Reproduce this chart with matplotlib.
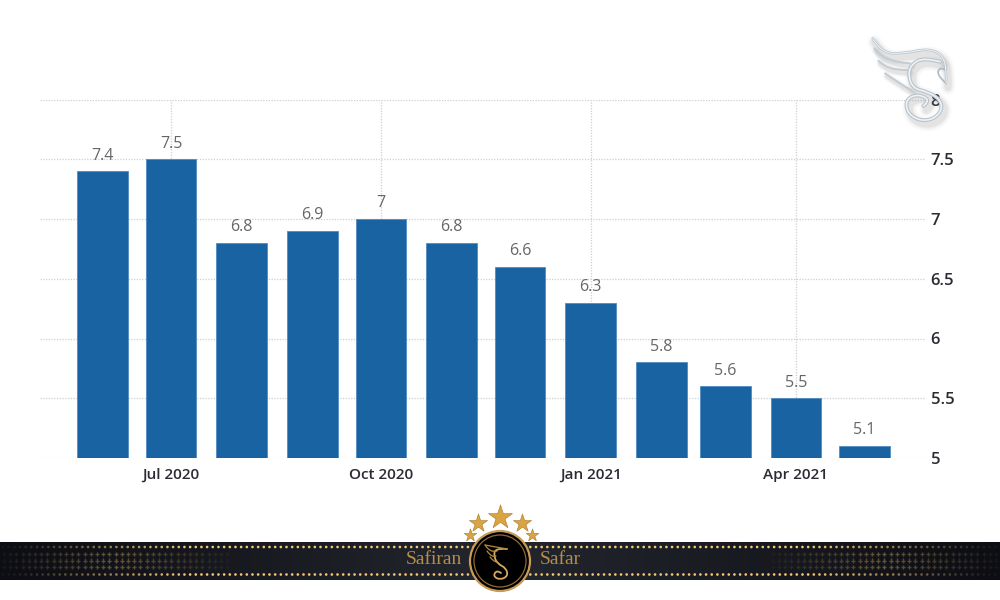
import numpy as np
import pandas as pd
import matplotlib
matplotlib.use("Agg")
import matplotlib.pyplot as plt
import matplotlib.dates as mdates
from matplotlib.path import Path
from matplotlib.patches import PathPatch, Circle

# data
meses = ["2020-06-01", "2020-07-01", "2020-08-01", "2020-09-01", "2020-10-01", "2020-11-01",
         "2020-12-01", "2021-01-01", "2021-02-01", "2021-03-01", "2021-04-01", "2021-05-01"]
valores = [7.4, 7.5, 6.8, 6.9, 7.0, 6.8, 6.6, 6.3, 5.8, 5.6, 5.5, 5.1]
rotulos = ["7.4", "7.5", "6.8", "6.9", "7", "6.8", "6.6", "6.3", "5.8", "5.6", "5.5", "5.1"]
y_ticks = [5, 5.5, 6, 6.5, 7, 7.5, 8]
y_labels = ["5", "5.5", "6", "6.5", "7", "7.5", "8"]
x_ticks = ["2020-07-01", "2020-10-01", "2021-01-01", "2021-04-01"]
x_labels = ["Jul 2020", "Oct 2020", "Jan 2021", "Apr 2021"]

plt.rcParams["font.family"] = ["Open Sans", "DejaVu Sans"]

fig = plt.figure(figsize=(10, 6), dpi=100, facecolor="white")

# grafico principal
ax = fig.add_axes([40 / 1000, 1 - 458 / 600, (925 - 40) / 1000, (458 - 99.5) / 600])
datas = mdates.date2num(pd.to_datetime(meses))
ticks_x = mdates.date2num(pd.to_datetime(x_ticks))
px_dia = 2.281
ax.set_xlim(ticks_x[0] - (171 - 40) / px_dia, ticks_x[0] + (925 - 171) / px_dia)
ax.set_ylim(5, 8)

ax.bar(datas, np.array(valores) - 5, bottom=5, width=22.2, color="#1a63a3",
       edgecolor="#4f8cc0", linewidth=0.6, zorder=3)
for d, v, r in zip(datas, valores, rotulos):
    ax.annotate(r, (d, v), xytext=(0, 5.5), textcoords="offset points", ha="center", va="bottom",
                fontsize=11.5, color="#666666", zorder=4)

ax.set_yticks(y_ticks)
ax.set_yticklabels(y_labels)
ax.set_xticks(ticks_x)
ax.set_xticklabels(x_labels)
ax.yaxis.tick_right()
ax.tick_params(axis="both", length=0, labelcolor="#2b2b33")
ax.tick_params(axis="y", pad=4, labelsize=12)
ax.tick_params(axis="x", pad=7, labelsize=11)
for t in ax.get_xticklabels() + ax.get_yticklabels():
    t.set_fontweight("semibold")
ax.grid(True, color="#cfcfcf", linestyle=(0, (1, 1.2)), linewidth=0.9, zorder=0)
ax.set_axisbelow(True)
for s in ax.spines.values():
    s.set_visible(False)

# camada de decoracao em pixels
ov = fig.add_axes([0, 0, 1, 1], zorder=10)
ov.patch.set_alpha(0)

# faixa escura
grad = np.abs(np.linspace(-1, 1, 500)).reshape(1, -1)
ov.imshow(1 - grad, extent=(0, 1000, 580, 542), aspect="auto", zorder=1,
          cmap=matplotlib.colors.LinearSegmentedColormap.from_list("faixa", ["#0c0e13", "#24262e"]))
ov.set_xlim(0, 1000)
ov.set_ylim(600, 0)
ov.axis("off")

xs = np.arange(3, 1000, 5.67)
dist = np.minimum(xs, 1000 - xs)
keep = np.abs(xs - 500) > 25
for yy in (547, 574.5):
    ov.scatter(xs[keep], np.full(keep.sum(), yy), marker="o", s=3.6, linewidths=0,
               c=[(0.96, 0.78, 0.47, a) for a in np.clip(dist[keep] / 190, 0.05, 1)], zorder=2)
xm = np.arange(4, 1000, 6.2)
dm = np.minimum(xm, 1000 - xm)
am = np.clip(1 - np.abs(dm - 115) / 115, 0, 1) * 0.32 + 0.04
am[dm > 230] = 0
for yy in (554, 560.5, 567):
    ov.scatter(xm, np.full(xm.size, yy), marker="+", s=9, linewidths=1.0,
               c=[(0.96, 0.78, 0.47, a) for a in am], zorder=2)

ov.text(433.5, 560, "Safiran", family="Liberation Serif", fontsize=14, color="#b58d4c",
        ha="center", va="center", zorder=3)
ov.text(560.5, 560, "Safar", family="Liberation Serif", fontsize=14, color="#b58d4c",
        ha="center", va="center", zorder=3)

# emblema
ov.add_patch(Circle((500, 561), 30, fc="#000000", ec="#c89a58", lw=1.6, zorder=4))
ov.add_patch(Circle((500, 561), 26, fc="none", ec="#8f6a35", lw=0.9, zorder=5))
for x0, y0, s in [(500, 517, 330), (478, 523, 190), (522, 523, 190), (470, 535, 90), (532, 535, 90)]:
    ov.scatter([x0], [y0], marker="*", s=s, c="#d9a441", edgecolors="#a8782a", linewidths=0.4, zorder=5)


def curva(pts, cor, lw, z, alpha=1.0):
    # curva suave: pontos viram controles, meios viram os nos
    pts = np.array(pts, dtype=float)
    verts = [pts[0]]
    codes = [Path.MOVETO]
    for i in range(1, len(pts) - 1):
        fim = pts[i + 1] if i == len(pts) - 2 else (pts[i] + pts[i + 1]) / 2
        verts += [pts[i], fim]
        codes += [Path.CURVE3, Path.CURVE3]
    ov.add_patch(PathPatch(Path(verts, codes), fc="none", ec=cor, lw=lw, alpha=alpha,
                           capstyle="round", joinstyle="round", zorder=z))


def zoom_pts(pts):
    # coordenadas do logo prata
    return [(780 + x / 3, 20 + y / 3) for x, y in pts]


corpo = [(480, 125), (430, 112), (392, 135), (385, 170), (400, 205), (440, 215), (478, 235),
         (488, 268), (460, 298), (420, 302), (385, 282), (376, 245), (400, 225), (432, 228),
         (447, 245), (430, 258)]
asa_topo = [(278, 55), (305, 100), (375, 100), (445, 85), (488, 105), (500, 150), (498, 190)]
bico = [(498, 190), (470, 165), (480, 140), (495, 150)]
penas = [[(283, 85), (308, 125), (390, 130)], [(295, 122), (322, 152), (385, 150)],
         [(315, 160), (345, 182), (395, 212)]]

for lw, a in [(10, 0.05), (7, 0.07), (5, 0.09)]:
    curva([(x + 3, y + 4) for x, y in zoom_pts(corpo)], "#777777", lw, 6, a)
    curva([(x + 2, y + 4) for x, y in zoom_pts(asa_topo)], "#777777", lw, 6, a)
    for p in penas:
        curva([(x + 2, y + 3) for x, y in zoom_pts(p)], "#777777", lw * 0.6, 6, a)

curva(zoom_pts(corpo), "#b9c4cc", 2.8, 7)
curva(zoom_pts(corpo), "#eef2f5", 1.2, 8)
curva(zoom_pts(asa_topo), "#b9c4cc", 1.8, 7)
curva(zoom_pts(asa_topo), "#f2f5f7", 0.7, 8)
curva(zoom_pts(bico), "#aeb9c1", 1.2, 7)
for p in penas:
    curva(zoom_pts(p), "#c3ccd3", 1.4, 7)

# S dourado dentro do circulo
corpo_ouro = [(507, 549), (495, 548), (494, 557), (498, 564), (506, 568), (508, 576),
              (500, 580), (493, 576), (497, 570), (501, 573)]
curva(corpo_ouro, "#d8a860", 1.3, 6)
for p in [[(485, 545), (490, 553), (497, 551)], [(487, 551), (492, 558), (496, 556)],
          [(490, 557), (494, 562), (497, 562)], [(485, 545), (496, 547), (507, 549)]]:
    curva(p, "#b8893f", 0.9, 6)

fig.savefig("out.png", dpi=100)
